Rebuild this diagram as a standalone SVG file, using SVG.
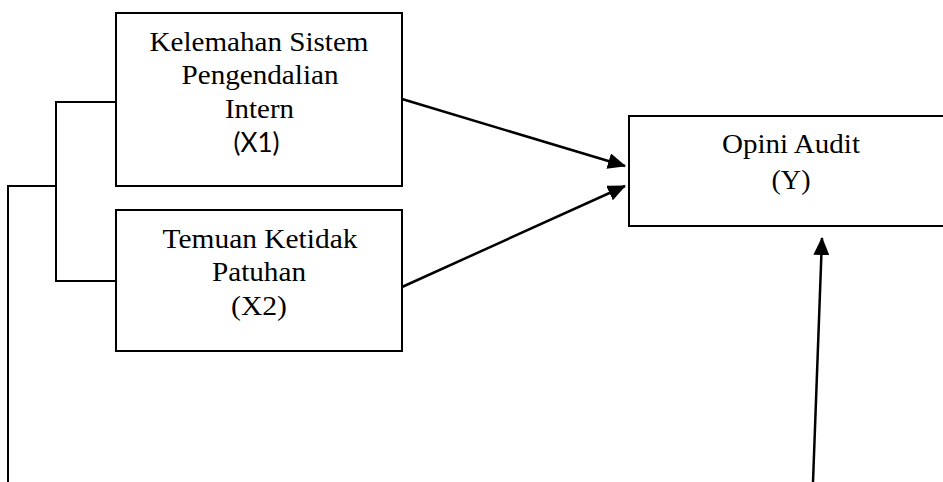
<svg xmlns="http://www.w3.org/2000/svg" width="943" height="482" viewBox="0 0 943 482">
  <style>
    .box { fill: #ffffff; stroke: #000000; stroke-width: 2; }
    .ln { fill: none; stroke: #000000; stroke-width: 2; }
    .arr { fill: none; stroke: #000000; stroke-width: 2.5; marker-end: url(#ah); }
    .t { font-family: "Liberation Serif", "Times New Roman", serif; font-size: 28px; fill: #000000; text-anchor: middle; }
    .s { font-family: "Lato", "Liberation Sans", sans-serif; font-size: 27px; fill: #000000; text-anchor: middle; }
  </style>
  <defs>
    <marker id="ah" markerUnits="userSpaceOnUse" markerWidth="20" markerHeight="16" refX="17" refY="8" orient="auto">
      <path d="M0,0 L18,8 L0,16 Z" fill="#000000"/>
    </marker>
  </defs>
  <rect width="943" height="482" fill="#ffffff"/>

  <g id="connectors">
    <polyline class="ln" points="116,102 56,102 56,281 116,281"/>
    <polyline class="ln" points="56,186 8,186 8,482"/>
    <line class="arr" x1="402" y1="99" x2="625" y2="166"/>
    <line class="arr" x1="402" y1="287" x2="625" y2="186"/>
    <line class="arr" x1="813" y1="482" x2="822" y2="238"/>
  </g>

  <g id="node-x1">
    <rect class="box" x="116" y="13" width="286" height="173"/>
    <text class="t" x="259" y="51" textLength="219" lengthAdjust="spacingAndGlyphs">Kelemahan Sistem</text>
    <text class="t" x="260" y="84" textLength="157" lengthAdjust="spacingAndGlyphs">Pengendalian</text>
    <text class="t" x="259.5" y="118" textLength="69" lengthAdjust="spacingAndGlyphs">Intern</text>
    <text class="s" x="256.5" y="152" textLength="46" lengthAdjust="spacingAndGlyphs">(X1)</text>
  </g>

  <g id="node-x2">
    <rect class="box" x="116" y="210" width="286" height="141"/>
    <text class="t" x="260" y="248" textLength="195" lengthAdjust="spacingAndGlyphs">Temuan Ketidak</text>
    <text class="t" x="259" y="281" textLength="94" lengthAdjust="spacingAndGlyphs">Patuhan</text>
    <text class="t" x="259" y="315" textLength="56" lengthAdjust="spacingAndGlyphs">(X2)</text>
  </g>

  <g id="node-y">
    <rect class="box" x="629" y="116" width="330" height="110"/>
    <text class="t" x="791" y="153" textLength="138" lengthAdjust="spacingAndGlyphs">Opini Audit</text>
    <text class="t" x="791" y="189" textLength="39" lengthAdjust="spacingAndGlyphs">(Y)</text>
  </g>
</svg>
